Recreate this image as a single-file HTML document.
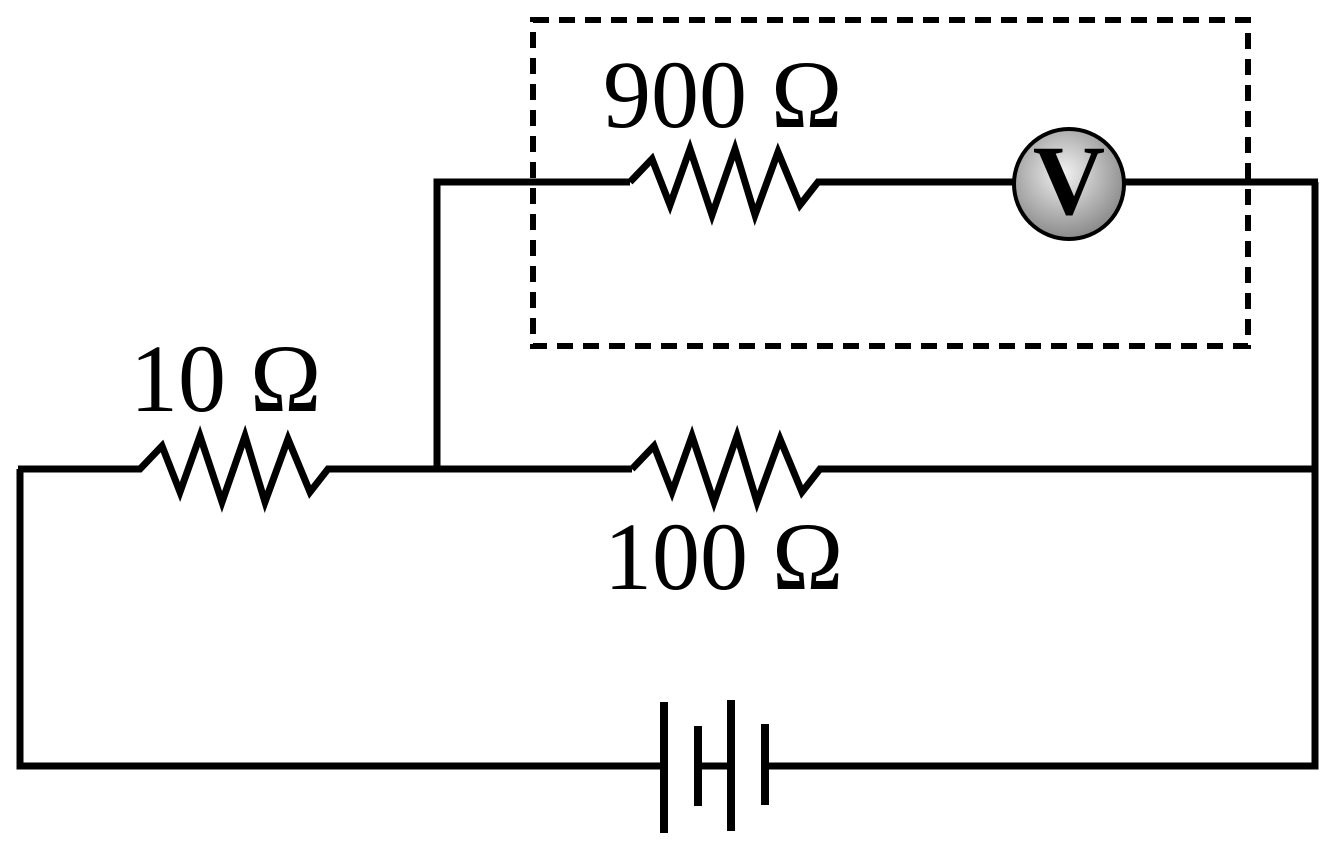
<!DOCTYPE html>
<html><head><style>body{margin:0;background:#fff}</style></head><body>
<svg width="1339" height="851" viewBox="0 0 1339 851" xmlns="http://www.w3.org/2000/svg">
<defs>
<radialGradient id="g" cx="45%" cy="40%" r="60%">
<stop offset="0" stop-color="#f2f2f2"/><stop offset="1" stop-color="#8a8a8a"/>
</radialGradient>
</defs>
<g fill="none" stroke="#000" stroke-width="7" stroke-linejoin="miter">
<rect x="533" y="20" width="715" height="326" stroke-width="6" stroke-dasharray="16 10"/>
<polyline points="437,468 437,182 630,182"/>
<polyline points="630,182 652,159 670,205 690,149 712,215 735,149 755,215 778,152 800,205 818,182 1013,182"/>
<line x1="1125" y1="182" x2="1318" y2="182"/>
<polyline points="1315,182 1315,766 768,766"/>
<polyline points="18,469 140,469 162,446 180,492 200,436 222,502 245,436 265,502 288,439 310,492 328,469 632,469"/>
<polyline points="632,469 654,446 672,492 692,436 714,502 737,436 757,502 780,439 802,492 820,469 1315,469"/>
<polyline points="20,469 20,766 664,766"/>
<line x1="698" y1="766" x2="731" y2="766"/>
</g>
<g stroke="#000" stroke-width="8">
<line x1="664" y1="702" x2="664" y2="833"/>
<line x1="698" y1="726" x2="698" y2="806"/>
<line x1="731" y1="700" x2="731" y2="831"/>
<line x1="765" y1="724" x2="765" y2="805"/>
</g>
<circle cx="1069" cy="184" r="55" fill="url(#g)" stroke="#000" stroke-width="4"/>
<g font-family="'Liberation Serif', 'Times New Roman', serif" fill="#000">
<text x="1069" y="214" font-size="100" font-weight="bold" text-anchor="middle">V</text>
<text x="603" y="127" font-size="96">900 Ω</text>
<text x="130" y="411" font-size="96">10 Ω</text>
<text x="604" y="589" font-size="96">100 Ω</text>
</g>
</svg>
</body></html>
